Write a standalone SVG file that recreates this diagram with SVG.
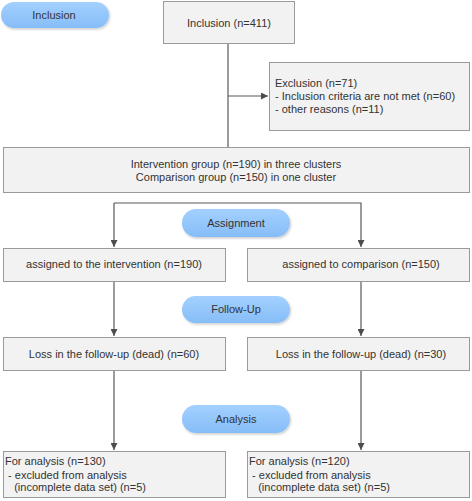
<svg xmlns="http://www.w3.org/2000/svg" width="472" height="501" viewBox="0 0 472 501">
<defs>
<linearGradient id="pillg" x1="0" y1="0" x2="0" y2="1">
<stop offset="0" stop-color="#a3d0ff"/>
<stop offset="1" stop-color="#86bdf7"/>
</linearGradient>
<filter id="sh" x="-10%" y="-20%" width="120%" height="150%">
<feDropShadow dx="1" dy="1.5" stdDeviation="1" flood-color="#000" flood-opacity="0.2"/>
</filter>
<marker id="arr" markerWidth="7" markerHeight="7" refX="7" refY="3.5" orient="auto" markerUnits="userSpaceOnUse">
<path d="M0,0 L7,3.5 L0,7 Z" fill="#4d4d4d"/>
</marker>
</defs>
<style>
.box{fill:#f2f2f2;stroke:#9a9a9a;stroke-width:1}
.pill{fill:url(#pillg);filter:url(#sh)}
text{font-family:"Liberation Sans",Arial,sans-serif;font-size:11px;fill:#333}
.c{text-anchor:middle}
.ln{stroke:#595959;stroke-width:1.2;fill:none}
</style>
<rect width="472" height="501" fill="#fff"/>
<g id="connectors">
<line class="ln" x1="228" y1="44" x2="228" y2="147"/>
<line class="ln" x1="228" y1="96" x2="268" y2="96" marker-end="url(#arr)"/>
<polyline class="ln" points="114,203 361,203 361,247" marker-end="url(#arr)"/>
<line class="ln" x1="114" y1="203" x2="114" y2="247" marker-end="url(#arr)"/>
<line class="ln" x1="114" y1="281" x2="114" y2="336" marker-end="url(#arr)"/>
<line class="ln" x1="361" y1="281" x2="361" y2="336" marker-end="url(#arr)"/>
<line class="ln" x1="114" y1="370" x2="114" y2="450" marker-end="url(#arr)"/>
<line class="ln" x1="361" y1="370" x2="361" y2="450" marker-end="url(#arr)"/>
</g>
<g id="phase-inclusion"><rect class="pill" x="1" y="2" width="108" height="26" rx="13"/><text class="c" x="54" y="19">Inclusion</text></g>
<g id="phase-assignment"><rect class="pill" x="182" y="209" width="108" height="28" rx="14"/><text class="c" x="236" y="227">Assignment</text></g>
<g id="phase-followup"><rect class="pill" x="182" y="296" width="108" height="27" rx="13.5"/><text class="c" x="236" y="313">Follow-Up</text></g>
<g id="phase-analysis"><rect class="pill" x="182" y="405" width="108" height="28" rx="14"/><text class="c" x="236" y="423">Analysis</text></g>
<g id="inclusion"><rect class="box" x="163.5" y="1.5" width="131" height="42"/><text class="c" x="229" y="27">Inclusion (n=411)</text></g>
<g id="exclusion"><rect class="box" x="269.5" y="62.5" width="200" height="68"/>
<text x="275" y="87">Exclusion (n=71)</text>
<text x="275" y="100">- Inclusion criteria are not met (n=60)</text>
<text x="275" y="113">- other reasons (n=11)</text></g>
<g id="groups"><rect class="box" x="3.5" y="147.5" width="466" height="45"/>
<text class="c" x="236" y="168">Intervention group (n=190) in three clusters</text>
<text class="c" x="236" y="181">Comparison group (n=150) in one cluster</text></g>
<g id="assigned-intervention"><rect class="box" x="3.5" y="248.5" width="222" height="33"/><text class="c" x="114" y="268">assigned to the intervention (n=190)</text></g>
<g id="assigned-comparison"><rect class="box" x="247.5" y="248.5" width="222" height="33"/><text class="c" x="361" y="268">assigned to comparison (n=150)</text></g>
<g id="loss-intervention"><rect class="box" x="3.5" y="337.5" width="222" height="33"/><text class="c" x="114" y="358">Loss in the follow-up (dead) (n=60)</text></g>
<g id="loss-comparison"><rect class="box" x="247.5" y="337.5" width="222" height="33"/><text class="c" x="361" y="358">Loss in the follow-up (dead) (n=30)</text></g>
<g id="analysis-intervention"><rect class="box" x="3.5" y="451.5" width="222" height="46"/>
<text x="5" y="465">For analysis (n=130)</text>
<text x="5" y="479" xml:space="preserve"> - excluded from analysis</text>
<text x="5" y="491" xml:space="preserve">   (incomplete data set) (n=5)</text></g>
<g id="analysis-comparison"><rect class="box" x="247.5" y="451.5" width="222" height="46"/>
<text x="249" y="465">For analysis (n=120)</text>
<text x="249" y="479" xml:space="preserve"> - excluded from analysis</text>
<text x="249" y="491" xml:space="preserve">   (incomplete data set) (n=5)</text></g>
</svg>
